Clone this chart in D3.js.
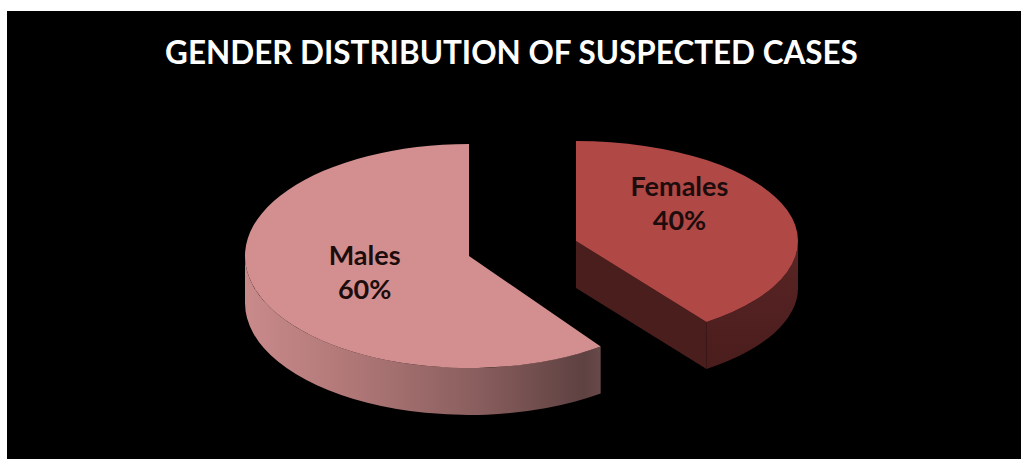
<!DOCTYPE html>
<html>
<head>
<meta charset="utf-8">
<script src="https://cdn.jsdelivr.net/npm/d3@7/dist/d3.min.js"></script>
<style>
  html, body { margin: 0; padding: 0; background: #ffffff; }
  svg { display: block; }
</style>
</head>
<body>
<script>
// ---- data ----
const title = "GENDER DISTRIBUTION OF SUSPECTED CASES";
const categories = ["Females", "Males"];
const values = [40, 60];
const colorsTop = ["#b04846", "#d38f8f"];

// ---- layout ----
const W = 1021, H = 459;
const depth = 47;
// each exploded slice gets its own projected disk (centre and radii in px)
const disks = {
  Females: { cx: 576, cy: 241, rx: 222, ry: 100, labelNudge: -22 },
  Males:   { cx: 469, cy: 256, rx: 224, ry: 112, labelNudge: 0 }
};

const svg = d3.select("body").append("svg")
  .attr("width", W).attr("height", H);

const defs = svg.append("defs");

// shading for the rim of the light slice: bright on the left, dark on the right
const gMale = defs.append("linearGradient")
  .attr("id", "rim-males").attr("gradientUnits", "userSpaceOnUse")
  .attr("x1", 245).attr("y1", 0).attr("x2", 602).attr("y2", 0);
[[0, "#c98a8a"], [0.3, "#b07777"], [0.65, "#8a5e5e"], [0.95, "#5e4141"], [1, "#6a4a4a"]]
  .forEach(([o, c]) => gMale.append("stop").attr("offset", o).attr("stop-color", c));

const gFem = defs.append("linearGradient")
  .attr("id", "rim-females").attr("gradientUnits", "userSpaceOnUse")
  .attr("x1", 0).attr("y1", 240).attr("x2", 0).attr("y2", 375);
[[0, "#5a2525"], [1, "#4a1c1c"]]
  .forEach(([o, c]) => gFem.append("stop").attr("offset", o).attr("stop-color", c));

// white frame on the top and left, black chart area
svg.append("rect").attr("x", 0).attr("y", 0).attr("width", W).attr("height", H).attr("fill", "#ffffff");
svg.append("rect").attr("x", 7).attr("y", 11).attr("width", W - 7).attr("height", H - 11).attr("fill", "#000000");

// ---- title ----
const titleText = svg.append("text")
  .attr("x", 511.5).attr("y", 64)
  .attr("text-anchor", "middle")
  .attr("fill", "#ffffff")
  .style("font-family", "Lato, 'Open Sans', sans-serif")
  .style("font-weight", 700)
  .style("font-size", "34px")
  .text(title);
{
  const w = titleText.node().getComputedTextLength();
  titleText.style("font-size", (34 * 693 / w).toFixed(2) + "px");
}

// ---- pie ----
const data = categories.map((c, i) => ({ name: c, value: values[i], color: colorsTop[i] }));
const total = d3.sum(values);
const pie = d3.pie().sort(null).value(d => d.value).startAngle(0).endAngle(2 * Math.PI);
const arcs = pie(data);

function pt(s, t, h = 0) {
  return [s.cx + s.rx * Math.sin(t), s.cy - s.ry * Math.cos(t) + h];
}

function topPath(s, a0, a1) {
  const p0 = pt(s, a0), p1 = pt(s, a1);
  const large = (a1 - a0) > Math.PI ? 1 : 0;
  return `M${s.cx},${s.cy}L${p0}A${s.rx},${s.ry} 0 ${large} 1 ${p1}Z`;
}

function rimPath(s, a0, a1) {
  const t0 = Math.max(a0, Math.PI / 2), t1 = Math.min(a1, 3 * Math.PI / 2);
  if (t1 <= t0) return null;
  const large = (t1 - t0) > Math.PI ? 1 : 0;
  return `M${pt(s, t0)}A${s.rx},${s.ry} 0 ${large} 1 ${pt(s, t1)}` +
         `L${pt(s, t1, depth)}A${s.rx},${s.ry} 0 ${large} 0 ${pt(s, t0, depth)}Z`;
}

function cutPath(s, a) {
  return `M${s.cx},${s.cy}L${pt(s, a)}L${pt(s, a, depth)}L${s.cx},${s.cy + depth}Z`;
}

// a cut face is seen when its outward normal points toward the viewer
function faceVisible(normalAngle) {
  return Math.cos(normalAngle) < -1e-6;
}

const gPie = svg.append("g");

arcs.forEach(a => {
  const s = disks[a.data.name];
  const g = gPie.append("g").attr("class", "slice");
  const rimFill = a.data.name === "Males" ? "url(#rim-males)" : "url(#rim-females)";

  if (faceVisible(a.startAngle - Math.PI / 2)) {
    g.append("path").attr("d", cutPath(s, a.startAngle)).attr("fill", "#4a1d1d");
  }
  if (faceVisible(a.endAngle + Math.PI / 2)) {
    g.append("path").attr("d", cutPath(s, a.endAngle))
      .attr("fill", a.data.name === "Males" ? "#5e4141" : "#4b1e1e");
  }
  const rp = rimPath(s, a.startAngle, a.endAngle);
  if (rp) g.append("path").attr("d", rp).attr("fill", rimFill);

  g.append("path").attr("d", topPath(s, a.startAngle, a.endAngle)).attr("fill", a.data.color);

  // labels
  const mid = (a.startAngle + a.endAngle) / 2;
  const [lx, ly0] = pt({ ...s, rx: s.rx * 0.49, ry: s.ry * 0.49 }, mid);
  const ly = ly0 + s.labelNudge;
  const pct = Math.round(a.data.value / total * 100) + "%";
  const t = g.append("text")
    .attr("text-anchor", "middle")
    .attr("fill", "#1c0c0c")
    .style("font-family", "Lato, 'Open Sans', sans-serif")
    .style("font-weight", 700)
    .style("font-size", "27px");
  t.append("tspan").attr("x", lx).attr("y", ly - 8).text(a.data.name);
  t.append("tspan").attr("x", lx).attr("y", ly + 26).text(pct);
});
</script>
</body>
</html>
